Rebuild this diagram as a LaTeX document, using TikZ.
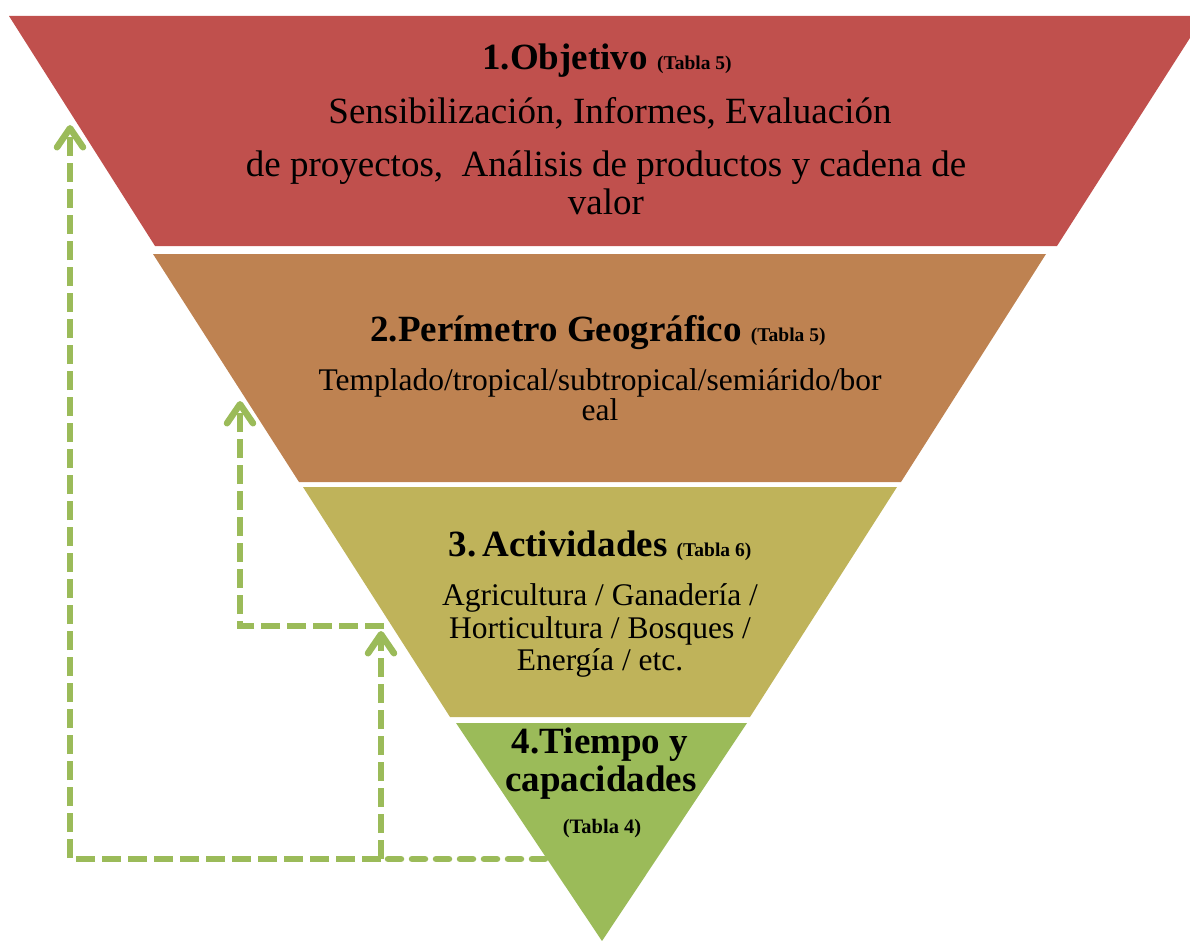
\documentclass[tikz,border=0pt]{standalone}
\usepackage{fontspec}
\setmainfont{Liberation Serif}
\usetikzlibrary{arrows.meta}
\definecolor{lyrred}{HTML}{C0504D}
\definecolor{lyrorange}{HTML}{BE8251}
\definecolor{lyrolive}{HTML}{BFB35A}
\definecolor{lyrgreen}{HTML}{9BBB59}
\definecolor{arrowgreen}{HTML}{9BBB59}
\tikzset{
  txt/.style={anchor=base, inner sep=0pt, text=black},
  ttl/.style={txt, font=\fontsize{37}{40}\selectfont\bfseries},
  bigbody/.style={txt, font=\fontsize{37}{40}\selectfont},
  body/.style={txt, font=\fontsize{31.5}{34}\selectfont},
  conn/.style={draw=arrowgreen, line width=6.5pt, dash pattern=on 19pt off 7pt},
  connround/.style={draw=arrowgreen, line width=6.5pt, line cap=round, dash pattern=on 13pt off 11pt},
  tip/.style={-{Straight Barb[length=19pt,width=26pt,line cap=round,line join=round]}}
}
\newcommand{\tabsmall}[1]{{\fontsize{19.5}{22}\selectfont\bfseries #1}}
\begin{document}
\begin{tikzpicture}[x=1pt,y=-1pt]
\useasboundingbox (0,0) rectangle (1190,941);
\clip (0,0) rectangle (1190,941);
% layers
\fill[lyrred] (9,16) -- (1204,16) -- (1057,246) -- (155,246) -- cycle;
\fill[lyrorange] (153,254) -- (1046,254) -- (901,482) -- (299,482) -- cycle;
\fill[lyrolive] (303,487) -- (897,487) -- (750,717) -- (450,717) -- cycle;
\fill[lyrgreen] (456,723) -- (747,723) -- (602,941) -- cycle;
% layer 1 text
\node[ttl] (t1a) at (607,70) {1.Objetivo \tabsmall{(Tabla 5)}};
\node[bigbody] (t1b) at (610,124) {Sensibilización, Informes, Evaluación};
\node[bigbody] (t1c) at (606,177) {de proyectos,\ \ Análisis de productos y cadena de};
\node[bigbody] (t1d) at (606,215) {valor};
% layer 2 text
\node[ttl] (t2a) at (598,341) {2.Perímetro Geográfico \tabsmall{(Tabla 5)}};
\node[body] (t2b) at (600,390) {Templado/tropical/subtropical/semiárido/bor};
\node[body] (t2c) at (600,420) {eal};
% layer 3 text
\node[ttl] (t3a) at (600,556) {3.\hspace{6pt}Actividades \tabsmall{(Tabla 6)}};
\node[body] (t3b) at (600,605) {Agricultura / Ganadería /};
\node[body] (t3c) at (600,638) {Horticultura / Bosques /};
\node[body] (t3d) at (600,670) {Energía / etc.};
% layer 4 text
\node[ttl] (t4a) at (600,753) {4.Tiempo y};
\node[ttl] (t4b) at (601,791) {capacidades};
\node[txt] (t4c) at (602,833) {\fontsize{20.5}{23}\selectfont\bfseries (Tabla 4)};
% connector points
\coordinate (s4) at (545,859);
\coordinate (j1) at (381,859);
\coordinate (c1) at (70,859);
\coordinate (e1) at (70,125);
\coordinate (e3) at (381,631);
\coordinate (j3) at (384,626);
\coordinate (c3) at (240,626);
\coordinate (e2) at (240,401);
% connectors
\draw[connround] (s4) -- (j1);
\draw[conn,tip] (j1) -- (c1) -- (e1);
\draw[conn,tip] (j1) -- (e3);
\draw[conn,tip] (j3) -- (c3) -- (e2);
\end{tikzpicture}
\end{document}
